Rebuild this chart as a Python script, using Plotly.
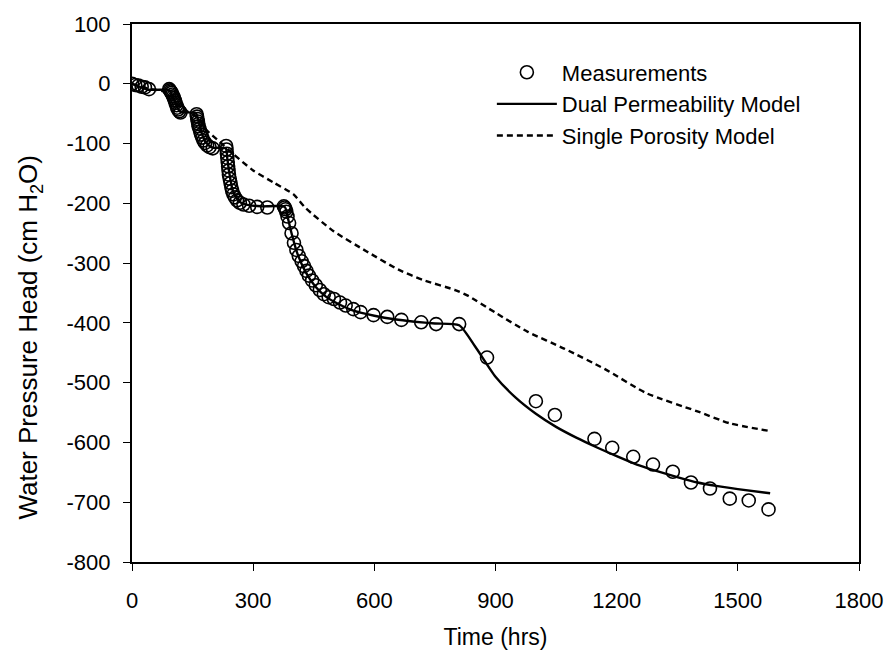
import plotly.graph_objects as go

meas_t = [0, 8, 16, 24, 32, 42,
          92, 94, 96, 98, 100, 102, 104, 106, 108, 110, 112, 114, 117, 120,
          160, 161, 162, 163, 164, 165, 167, 169, 171, 174, 177, 181, 186, 192, 200,
          233, 234, 235, 236, 237, 238, 239, 240, 242, 244, 246, 248, 251, 255, 260, 267, 276, 290, 310, 335,
          376, 378, 380, 382, 385, 389, 395, 401, 407, 413, 420, 426, 432, 438, 446, 455, 465, 475, 487,
          500, 515, 529, 548, 566, 598, 632, 667, 716, 753, 810,
          879, 1000, 1047, 1145, 1189, 1241, 1290, 1339, 1384, 1431, 1480, 1527, 1576]
meas_h = [0, -2, -3, -5, -6, -9,
          -9, -11, -13, -15, -18, -21, -24, -28, -32, -36, -40, -43, -46, -48,
          -51, -55, -59, -63, -67, -71, -75, -80, -85, -90, -95, -99, -103, -106, -108,
          -104, -110, -117, -124, -131, -138, -145, -152, -159, -166, -173, -179, -185, -190, -195, -199, -202, -204, -206, -207,
          -205, -207, -210, -214, -222, -233, -250, -266, -278, -288, -297, -305, -313, -321, -329, -337, -345, -352, -357,
          -360, -366, -371, -377, -382, -387, -390, -395, -399, -402, -402,
          -458, -531, -554, -594, -609, -624, -637, -649, -667, -677, -694, -697, -712]

dual_t = [0, 40, 90, 95, 100, 105, 110, 115, 120, 158, 162, 166, 170, 175, 180, 190, 200, 232,
          236, 240, 245, 250, 260, 270, 290, 320, 378, 385, 395, 410, 430, 455, 480, 510, 550,
          600, 650, 700, 750, 810, 850, 900, 950, 1000, 1050, 1100, 1150, 1200, 1250, 1300,
          1350, 1400, 1450, 1500, 1580]
dual_h = [0, -10, -10, -13, -20, -28, -36, -43, -47, -49, -56, -66, -77, -87, -95, -103, -107, -108,
          -125, -145, -165, -180, -192, -199, -203, -205, -206, -222, -250, -285, -315, -340, -356, -368, -380,
          -388, -394, -398, -401, -404, -440, -490, -525, -552, -574, -592, -608, -623, -637, -648,
          -658, -667, -673, -678, -685]

single_t = [0, 40, 90, 120, 160, 185, 217, 250, 300, 350, 400, 430, 500, 580, 660, 720, 800, 830,
            900, 980, 1070, 1170, 1275, 1400, 1480, 1580]
single_h = [0, -8, -15, -40, -55, -78, -97, -117, -145, -165, -185, -208, -247, -280, -311, -328, -345, -354,
            -383, -415, -443, -477, -518, -548, -568, -581]

x_ticks = [0, 300, 600, 900, 1200, 1500, 1800]
y_ticks = [100, 0, -100, -200, -300, -400, -500, -600, -700, -800]

FONT = "Liberation Sans, Arial, sans-serif"

fig = go.Figure()
fig.add_trace(go.Scatter(
    x=meas_t, y=meas_h, mode="markers", name="Measurements",
    marker=dict(symbol="circle-open", size=13, color="black", line=dict(width=1.6, color="black")),
))
fig.add_trace(go.Scatter(
    x=dual_t, y=dual_h, mode="lines", name="Dual Permeability Model",
    line=dict(color="black", width=2.4, shape="spline", smoothing=0.6),
))
fig.add_trace(go.Scatter(
    x=single_t, y=single_h, mode="lines", name="Single Porosity Model",
    line=dict(color="black", width=2.4, dash="6px,4px", shape="spline", smoothing=0.6),
))

fig.update_layout(
    width=895, height=661,
    margin=dict(l=132, r=32, t=19, b=99),
    paper_bgcolor="white", plot_bgcolor="white",
    font=dict(family=FONT, size=22, color="black"),
    showlegend=True,
    legend=dict(x=0.495, y=0.949, xanchor="left", yanchor="top",
                bgcolor="rgba(0,0,0,0)", font=dict(size=22, family=FONT),
                tracegroupgap=0, itemwidth=60),
    annotations=[dict(
        text="Water Pressure Head (cm H<sub>2</sub>O)",
        xref="paper", yref="paper", x=-0.141, y=0.418,
        xanchor="center", yanchor="middle", textangle=-90,
        showarrow=False, font=dict(size=26, family=FONT, color="black"),
    )],
)
fig.update_xaxes(
    range=[0, 1800], tickvals=x_ticks, ticktext=[str(v) for v in x_ticks],
    showgrid=False, zeroline=False,
    showline=True, linecolor="black", linewidth=2, mirror=True,
    ticks="outside", ticklen=7, tickwidth=1, tickcolor="black",
    ticklabelstandoff=11,
    tickfont=dict(size=22, family=FONT),
    title=dict(text="Time (hrs)", font=dict(size=23, family=FONT), standoff=16),
)
fig.update_yaxes(
    range=[-800, 100], tickvals=y_ticks, ticktext=[str(v) for v in y_ticks],
    showgrid=False, zeroline=False,
    showline=True, linecolor="black", linewidth=2, mirror=True,
    ticks="outside", ticklen=7, tickwidth=1, tickcolor="black",
    ticklabelstandoff=8,
    tickfont=dict(size=22, family=FONT),
)

fig.write_html("out.html")
